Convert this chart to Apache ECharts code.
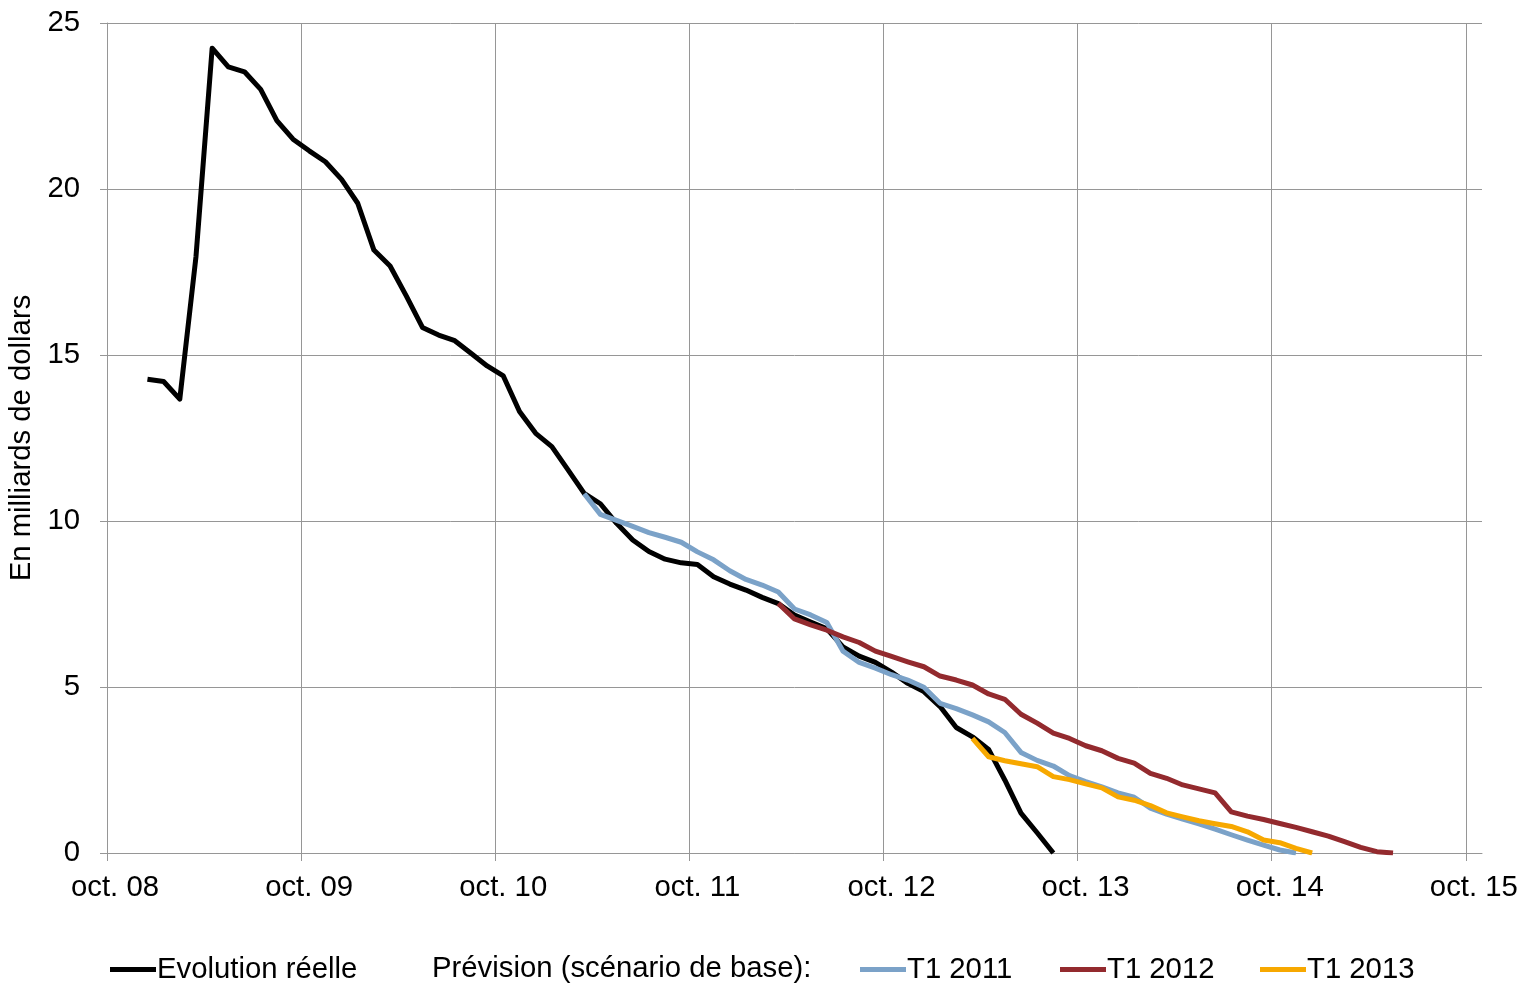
<!DOCTYPE html>
<html>
<head>
<meta charset="utf-8">
<script src="https://cdn.jsdelivr.net/npm/echarts@6/dist/echarts.min.js"></script>
<style>
html,body{margin:0;padding:0;background:#fff;}
#chart{width:1522px;height:983px;}
</style>
</head>
<body>
<div id="chart"></div>
<script>
// X axis: months counted from October 2008; tick labels every 12 months
const xTickLabels = ['oct. 08','oct. 09','oct. 10','oct. 11','oct. 12','oct. 13','oct. 14','oct. 15'];
const xTickValues = [0, 12, 24, 36, 48, 60, 72, 84];

// Evolution réelle (monthly, first point at month 2.5)
const reelStart = 2.5;
const reelValues = [14.27, 14.2, 13.67, 17.96, 24.24, 23.68, 23.53, 23.0, 22.06, 21.5,
  21.15, 20.82, 20.29, 19.57, 18.16, 17.68, 16.78, 15.83, 15.6, 15.43,
  15.05, 14.67, 14.37, 13.3, 12.64, 12.24, 11.54, 10.83, 10.52, 9.93,
  9.43, 9.08, 8.85, 8.74, 8.69, 8.32, 8.10, 7.92, 7.70, 7.51,
  7.17, 6.96, 6.75, 6.21, 5.93, 5.74, 5.45, 5.11, 4.86, 4.41,
  3.78, 3.50, 3.12, 2.20, 1.20, 0.61, 0.0];

// Prévision T1 2011
const t2011Start = 29.5;
const t2011Values = [10.82, 10.2, 10.02, 9.84, 9.65, 9.51, 9.36, 9.07, 8.83, 8.50,
  8.24, 8.07, 7.86, 7.35, 7.17, 6.94, 6.08, 5.74, 5.57, 5.37,
  5.21, 4.99, 4.51, 4.35, 4.16, 3.95, 3.63, 3.03, 2.79, 2.62,
  2.33, 2.15, 1.99, 1.81, 1.68, 1.35, 1.17, 1.02, 0.88, 0.72,
  0.55, 0.39, 0.24, 0.09, 0.0];

// Prévision T1 2012
const t2012Start = 41.5;
const t2012Values = [7.52, 7.05, 6.87, 6.71, 6.51, 6.34, 6.08, 5.92, 5.76, 5.61,
  5.33, 5.21, 5.06, 4.79, 4.63, 4.18, 3.91, 3.61, 3.45, 3.23,
  3.08, 2.85, 2.71, 2.40, 2.25, 2.05, 1.93, 1.81, 1.24, 1.11,
  1.01, 0.89, 0.77, 0.64, 0.51, 0.34, 0.17, 0.04, 0.0];

// Prévision T1 2013
const t2013Start = 53.5;
const t2013Values = [3.45, 2.90, 2.78, 2.69, 2.60, 2.30, 2.21, 2.08, 1.96, 1.69,
  1.59, 1.43, 1.21, 1.09, 0.97, 0.88, 0.80, 0.64, 0.39, 0.31,
  0.14, 0.0];

const toPairs = (start, vals) => vals.map((v, i) => [start + i, v]);

const FONT = 'Liberation Sans, Arial, sans-serif';
const FS = 29.3;

const chart = echarts.init(document.getElementById('chart'), null, {renderer: 'canvas'});

const mkSeries = (name, start, vals, color) => ({
  name: name,
  type: 'line',
  data: toPairs(start, vals),
  showSymbol: false,
  symbol: 'none',
  animation: false,
  lineStyle: {color: color, width: 5, join: 'round'},
  itemStyle: {color: color}
});

const mkLegend = (name, left) => ({
  left: left, top: 955, padding: 0,
  data: [name],
  icon: 'rect', itemWidth: 46, itemHeight: 5, itemGap: 0,
  textStyle: {fontSize: FS, fontFamily: FONT, color: '#000', padding: [0, 0, 0, -4]},
  selectedMode: false
});

chart.setOption({
  animation: false,
  backgroundColor: '#ffffff',
  textStyle: {fontFamily: FONT, color: '#000'},
  grid: {left: 107, right: 40, top: 23, bottom: 130, containLabel: false, outerBoundsMode: 'none'},
  xAxis: {
    type: 'value',
    min: 0,
    max: 85,
    interval: 12,
    axisLine: {show: true, lineStyle: {color: '#969696', width: 1}},
    axisTick: {show: true, length: 8, customValues: xTickValues, lineStyle: {color: '#969696', width: 1}},
    splitLine: {show: true, lineStyle: {color: '#969696', width: 1}},
    axisLabel: {
      customValues: xTickValues,
      margin: 20,
      fontSize: FS,
      fontFamily: FONT,
      color: '#000',
      padding: [0, 0, 0, 16],
      formatter: function (v) {
        const i = xTickValues.indexOf(v);
        return i >= 0 ? xTickLabels[i] : '';
      }
    }
  },
  yAxis: {
    type: 'value',
    min: 0,
    max: 25,
    interval: 5,
    name: 'En milliards de dollars',
    nameLocation: 'middle',
    nameRotate: 90,
    nameGap: 67,
    nameTextStyle: {fontSize: FS, fontFamily: FONT, color: '#000'},
    axisLine: {show: true, lineStyle: {color: '#969696', width: 1}},
    axisTick: {show: true, length: 7, lineStyle: {color: '#969696', width: 1}},
    splitLine: {show: true, lineStyle: {color: '#969696', width: 1}},
    axisLabel: {margin: 27, fontSize: FS, fontFamily: FONT, color: '#000'}
  },
  legend: [
    mkLegend('Evolution réelle', 110),
    mkLegend('T1 2011', 860),
    mkLegend('T1 2012', 1060),
    mkLegend('T1 2013', 1260)
  ],
  graphic: [
    {
      type: 'text',
      left: 432, top: 954,
      style: {text: 'Prévision (scénario de base):', font: FS + 'px ' + FONT, fill: '#000'}
    }
  ],
  series: [
    mkSeries('Evolution réelle', reelStart, reelValues, '#000000'),
    mkSeries('T1 2011', t2011Start, t2011Values, '#7ba2c8'),
    mkSeries('T1 2012', t2012Start, t2012Values, '#932a2e'),
    mkSeries('T1 2013', t2013Start, t2013Values, '#f7a800')
  ]
});
</script>
</body>
</html>
